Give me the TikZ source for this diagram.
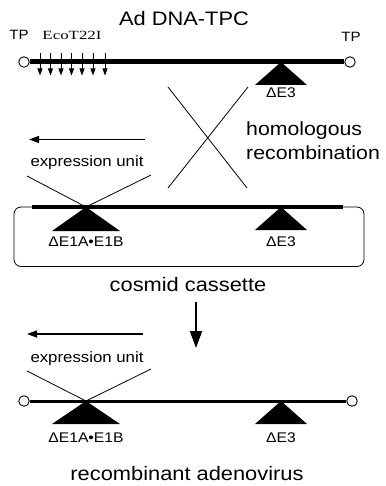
\documentclass[tikz,border=0pt]{standalone}
\usepackage{fontspec}
\setmainfont{Liberation Sans}[FakeStretch=1.12]
\newfontfamily\enzymefont{Liberation Serif}[FakeStretch=1.35]
\usetikzlibrary{arrows.meta}
\begin{document}
\begin{tikzpicture}[x=1pt,y=-1pt,
  big/.style={font=\fontsize{19.5}{23}\selectfont, anchor=base, inner sep=0},
  mid/.style={font=\fontsize{15}{18}\selectfont, anchor=base, inner sep=0},
  small/.style={font=\fontsize{14}{17}\selectfont, anchor=base, inner sep=0},
  tiny/.style={font=\fontsize{13.5}{16}\selectfont, anchor=base, inner sep=0},
  tpend/.style={circle, draw, line width=0.9pt, fill=white, minimum size=10.5pt, inner sep=0},
  genome/.style={line width=5pt},
  thinline/.style={line width=0.8pt},
  cutsite/.style={line width=0.8pt, -{Triangle[length=7pt,width=5pt]}},
  direction/.style={line width=1.2pt, -{Triangle[length=10pt,width=7pt]}},
  deletion/.style={fill=black},
]
\useasboundingbox (0,0) rectangle (385,486);

% ---------- Ad DNA-TPC ----------
\node[big] (title) at (184,26) {Ad DNA-TPC};
\node[tiny] (tpLlab) at (19,40) {TP};
\node[tiny] (tpRlab) at (351,42) {TP};
\node[anchor=base, inner sep=0, font=\enzymefont\fontsize{12.5}{15}\selectfont] (eco) at (72,40) {EcoT22I};

\node[tpend] (tpL1) at (24,62) {};
\node[tpend] (tpR1) at (350,62) {};
\draw[genome] (tpL1.east) -- (tpR1.west);

\foreach \x in {40,50.5,61,71.5,82,93,105}
  \draw[cutsite] (\x,53) -- (\x,75.5);

\fill[deletion] (281,62) -- (255,85) -- (307,85) -- cycle;
\node[small] (e3a) at (281,98) {ΔE3};

% ---------- homologous recombination ----------
\coordinate (xa1) at (168,87);
\coordinate (xa2) at (247,188);
\coordinate (xb1) at (248,87);
\coordinate (xb2) at (168,188);
\draw[thinline] (xa1) -- (xa2);
\draw[thinline] (xb1) -- (xb2);
\node[big, anchor=base west, font=\fontsize{19}{23}\selectfont] (hom) at (246,136) {homologous};
\node[big, anchor=base west, font=\fontsize{19}{23}\selectfont] (rec) at (246,159.5) {recombination};

% ---------- cosmid cassette ----------
\coordinate (arrM1) at (145,139.5);
\coordinate (arrM2) at (29,139.5);
\draw[direction] (arrM1) -- (arrM2);
\node[mid] (expM) at (87,167) {expression unit};
\coordinate (vM1) at (27,176);
\coordinate (vM0) at (86,207);
\coordinate (vM2) at (151,175);
\draw[thinline] (vM1) -- (vM0) -- (vM2);

\draw[thinline, rounded corners=7pt] (14,207) rectangle (364,266.5);
\coordinate (casL) at (32,207);
\coordinate (casR) at (343,207);
\draw[line width=4.5pt] (casL) -- (casR);

\fill[deletion] (86,207) -- (52,231) -- (120,231) -- cycle;
\fill[deletion] (281,207) -- (255,230) -- (307,230) -- cycle;
\node[small] (e1m) at (86,246.7) {ΔE1A•E1B};
\node[small] (e3m) at (281,246.7) {ΔE3};

\node[big] (cos) at (188,291) {cosmid cassette};

\coordinate (down1) at (196,302);
\coordinate (down2) at (196,348);
\draw[line width=1.8pt, -{Triangle[length=17pt,width=12pt]}] (down1) -- (down2);

% ---------- recombinant adenovirus ----------
\coordinate (arrB1) at (143,334);
\coordinate (arrB2) at (27,334);
\draw[direction] (arrB1) -- (arrB2);
\node[mid] (expB) at (87,362) {expression unit};
\coordinate (vB1) at (27,371);
\coordinate (vB0) at (86,401);
\coordinate (vB2) at (151,369);
\draw[thinline] (vB1) -- (vB0) -- (vB2);

\node[tpend] (tpL3) at (24,401) {};
\node[tpend] (tpR3) at (352,401) {};
\draw[line width=3pt] (tpL3.east) -- (tpR3.west);

\fill[deletion] (86,401) -- (52,424) -- (120,424) -- cycle;
\fill[deletion] (281,401) -- (255,424) -- (307,424) -- cycle;
\node[small] (e1b) at (86,442) {ΔE1A•E1B};
\node[small] (e3b) at (281,442) {ΔE3};

\node[big] (recad) at (187,480) {recombinant adenovirus};
\end{tikzpicture}
\end{document}
